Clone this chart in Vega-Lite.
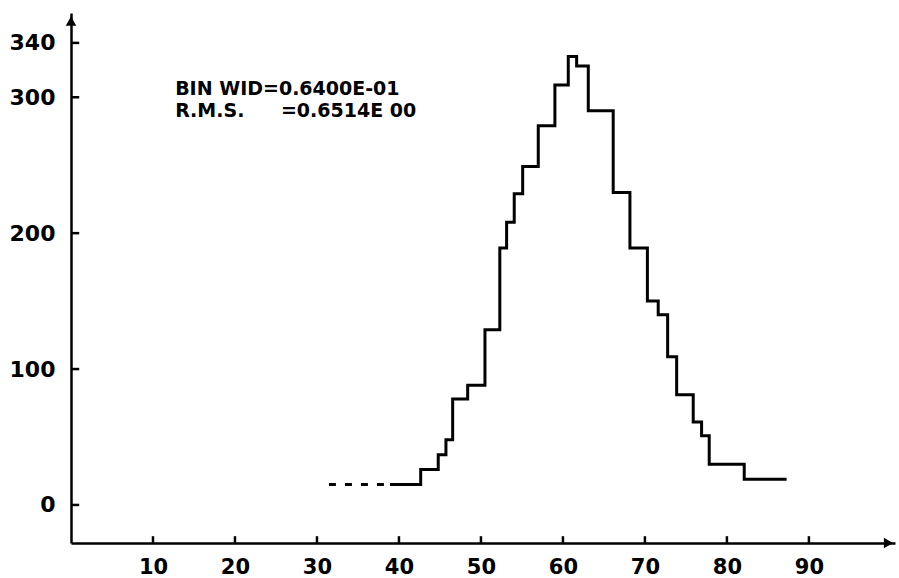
{
  "$schema": "https://vega.github.io/schema/vega-lite/v6.json",
  "width": 824,
  "height": 530,
  "autosize": {"type": "none"},
  "padding": {"left": 71, "top": 13, "right": 4, "bottom": 35},
  "background": "white",
  "config": {
    "view": {"stroke": null},
    "axis": {"grid": false, "ticks": false, "domainColor": "black", "domainWidth": 2.5, "labelColor": "black", "labelFont": "DejaVu Sans", "labelFontWeight": "bold", "title": null}
  },
  "datasets": {
    "hist": [
      {"x": 38.9, "count": 15},
      {"x": 42.65, "count": 26},
      {"x": 44.79, "count": 37},
      {"x": 45.73, "count": 48},
      {"x": 46.55, "count": 78},
      {"x": 48.38, "count": 88},
      {"x": 50.49, "count": 129},
      {"x": 52.3, "count": 189},
      {"x": 53.13, "count": 208},
      {"x": 54.06, "count": 229},
      {"x": 55.09, "count": 249},
      {"x": 56.99, "count": 279},
      {"x": 59.02, "count": 309},
      {"x": 60.65, "count": 330},
      {"x": 61.67, "count": 323},
      {"x": 63.09, "count": 290},
      {"x": 66.13, "count": 230},
      {"x": 68.17, "count": 189},
      {"x": 70.3, "count": 150},
      {"x": 71.62, "count": 140},
      {"x": 72.77, "count": 109},
      {"x": 73.87, "count": 81},
      {"x": 75.89, "count": 61},
      {"x": 76.91, "count": 51},
      {"x": 77.84, "count": 30},
      {"x": 82.11, "count": 19},
      {"x": 87.28, "count": 19}
    ],
    "dashed": [
      {"x": 31.46, "count": 15},
      {"x": 38.9, "count": 15}
    ],
    "notes": [
      {"x": 12.7, "count": 306, "text": "BIN WID=0.6400E-01"},
      {"x": 12.7, "count": 290, "text": "R.M.S."},
      {"x": 25.6, "count": 290, "text": "=0.6514E 00"}
    ],
    "arrows": [
      {"x": 0, "count": 356, "shape": "triangle-up"},
      {"x": 99.7, "count": -28, "shape": "triangle-right"}
    ],
    "xticks": [
      {"v": 10}, {"v": 20}, {"v": 30}, {"v": 40}, {"v": 50}, {"v": 60}, {"v": 70}, {"v": 80}, {"v": 90}
    ],
    "yticks": [
      {"v": 0}, {"v": 100}, {"v": 200}, {"v": 300}, {"v": 340}
    ]
  },
  "layer": [
    {
      "data": {"name": "hist"},
      "mark": {"type": "line", "interpolate": "step-after", "color": "black", "strokeWidth": 3},
      "encoding": {
        "x": {"field": "x", "type": "quantitative", "scale": {"domain": [0, 100.5], "nice": false, "zero": false},
          "axis": {"values": [10, 20, 30, 40, 50, 60, 70, 80, 90], "labelPadding": 13, "labelFontSize": 21}},
        "y": {"field": "count", "type": "quantitative", "scale": {"domain": [-28, 362], "nice": false, "zero": false},
          "axis": {"values": [0, 100, 200, 300, 340], "labelPadding": 16, "labelFontSize": 22}}
      }
    },
    {
      "data": {"name": "dashed"},
      "mark": {"type": "line", "color": "black", "strokeWidth": 3, "strokeDash": [7, 9]},
      "encoding": {
        "x": {"field": "x", "type": "quantitative"},
        "y": {"field": "count", "type": "quantitative"}
      }
    },
    {
      "data": {"name": "xticks"},
      "mark": {"type": "rule", "color": "black", "strokeWidth": 2.5},
      "encoding": {
        "x": {"field": "v", "type": "quantitative"},
        "y": {"datum": -28, "type": "quantitative"},
        "y2": {"datum": -23}
      }
    },
    {
      "data": {"name": "yticks"},
      "mark": {"type": "rule", "color": "black", "strokeWidth": 2.5},
      "encoding": {
        "y": {"field": "v", "type": "quantitative"},
        "x": {"datum": 0, "type": "quantitative"},
        "x2": {"datum": 1}
      }
    },
    {
      "data": {"name": "notes"},
      "mark": {"type": "text", "align": "left", "baseline": "middle", "font": "DejaVu Sans", "fontWeight": "bold", "fontSize": 19, "color": "black"},
      "encoding": {
        "x": {"field": "x", "type": "quantitative"},
        "y": {"field": "count", "type": "quantitative"},
        "text": {"field": "text"}
      }
    },
    {
      "data": {"name": "arrows"},
      "mark": {"type": "point", "filled": true, "color": "black", "size": 110, "opacity": 1},
      "encoding": {
        "x": {"field": "x", "type": "quantitative"},
        "y": {"field": "count", "type": "quantitative"},
        "shape": {"field": "shape", "type": "nominal", "scale": null}
      }
    }
  ]
}
